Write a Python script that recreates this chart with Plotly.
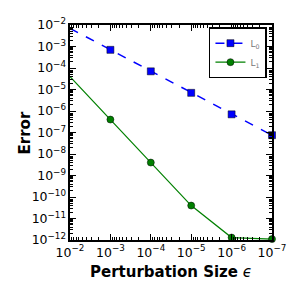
import plotly.graph_objects as go

eps = [1e-2, 1e-3, 1e-4, 1e-5, 1e-6, 1e-7]
err_L0 = [7e-3, 7e-4, 7e-5, 7e-6, 7e-7, 7.5e-8]
err_L1 = [4e-5, 4e-7, 4e-9, 4e-11, 1.3e-12, 1.1e-12]

fig = go.Figure()
fig.add_trace(go.Scatter(x=eps, y=err_L0, mode="lines+markers", name="L<sub>0</sub>",
                         line=dict(color="blue", dash="dash", width=1.5),
                         marker=dict(symbol="square", size=7, color="blue", line=dict(color="black", width=0.5)),
                         cliponaxis=False))
fig.add_trace(go.Scatter(x=eps, y=err_L1, mode="lines+markers", name="L<sub>1</sub>",
                         line=dict(color="green", width=1.2),
                         marker=dict(symbol="circle", size=7, color="green", line=dict(color="black", width=0.5)),
                         cliponaxis=False))

axcommon = dict(type="log", showline=True, linecolor="black", linewidth=2, mirror="ticks",
                ticks="inside", ticklen=6, tickcolor="black", tickwidth=1,
                showgrid=False, zeroline=False, dtick=1, exponentformat="power",
                automargin=False,
                tickfont=dict(family="DejaVu Sans", size=10, color="black"),
                minor=dict(ticks="inside", ticklen=3, tickcolor="black", showgrid=False))

fig.update_xaxes(range=[-2, -7], title=dict(text="<b>Perturbation Size</b> <i>ϵ</i>", font=dict(family="DejaVu Sans", size=15, color="black"), standoff=8), **axcommon)
fig.update_yaxes(range=[-12, -2], **axcommon)

fig.add_annotation(text="<b>Error</b>", xref="paper", yref="paper", x=-0.223, y=0.5,
                   xanchor="center", yanchor="middle", textangle=-90, showarrow=False,
                   font=dict(family="DejaVu Sans", size=15, color="black"))

fig.update_layout(width=300, height=300, margin=dict(l=62, r=36, t=17, b=68),
                  plot_bgcolor="white", paper_bgcolor="white",
                  legend=dict(x=0.975, y=0.99, xanchor="right", yanchor="top",
                              bordercolor="black", borderwidth=1.5, bgcolor="white",
                              font=dict(family="DejaVu Sans", size=9, color="#777"),
                              itemwidth=30, tracegroupgap=0))
fig.write_html("out.html")
